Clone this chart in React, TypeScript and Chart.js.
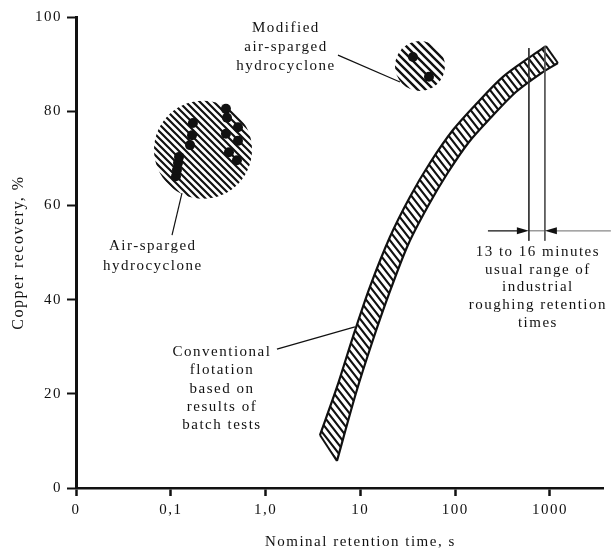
import React, { useEffect, useRef } from 'react';
import { Chart, registerables } from 'chart.js';

Chart.register(...registerables);

const FONT = "'Liberation Serif', 'Times New Roman', serif";

// x values are positions on the broken log time axis:
// 0 = "0", 1 = 0,1 s, 2 = 1,0 s, 3 = 10 s, 4 = 100 s, 5 = 1000 s
const xTickPositions = [0, 1, 2, 3, 4, 5];
const xTickLabels = ['0', '0,1', '1,0', '10', '100', '1000'];
const yTickValues = [0, 20, 40, 60, 80, 100];

// Air-sparged hydrocyclone results
const airX = [1.055, 1.065, 1.076, 1.087, 1.203, 1.224, 1.234, 1.582, 1.593, 1.582, 1.709, 1.709, 1.614, 1.698];
const airY = [66.2, 67.5, 69.0, 70.3, 72.8, 74.9, 77.5, 80.5, 78.6, 75.2, 76.6, 73.7, 71.3, 69.6];
const airCloudX = [1.34];
const airCloudY = [71.8];

// Modified air-sparged hydrocyclone results
const modX = [3.555, 3.724];
const modY = [91.5, 87.3];
const modCloudX = [3.629];
const modCloudY = [89.6];

// Conventional flotation band (batch tests)
const bandUpperX = [2.574, 2.753, 2.922, 3.101, 3.312, 3.523, 3.734, 3.977, 4.230, 4.504, 4.789, 4.958];
const bandUpperY = [11.25, 21.4, 32.1, 42.7, 53.3, 61.8, 69.0, 76.0, 81.7, 87.3, 91.5, 93.8];
const bandLowerX = [2.753, 2.954, 3.122, 3.302, 3.502, 3.708, 3.914, 4.146, 4.383, 4.641, 4.911, 5.084];
const bandLowerY = [5.73, 20.17, 30.79, 41.19, 51.59, 59.66, 66.67, 73.46, 78.77, 84.08, 88.11, 90.23];

// Usual industrial roughing range markers (13 and 16 minutes, as drawn)
const rangeX = [4.778, 4.947];
const rangeTopY = [93.4, 93.8];
const rangeBottomY = 52.5;
const rangeArrowY = 54.6;
const rangeArrowFromX = [4.346, 5.643];

// Leader lines
const leaderModX = [2.764, 3.418];
const leaderModY = [91.9, 86.2];
const leaderAirX = [1.013, 1.118];
const leaderAirY = [53.7, 62.6];
const leaderConvX = [2.120, 2.943];
const leaderConvY = [29.5, 34.2];

const textBlocks = [
  { lines: ['Modified', 'air-sparged', 'hydrocyclone'], x: 2.215, y: 97.7, lh: 19 },
  { lines: ['Air-sparged', 'hydrocyclone'], x: 0.81, y: 51.4, lh: 20 },
  { lines: ['Conventional', 'flotation', 'based on', 'results of', 'batch tests'], x: 1.54, y: 28.9, lh: 18.4 },
  { lines: ['13 to 16 minutes', 'usual range of', 'industrial', 'roughing retention', 'times'], x: 4.873, y: 50.1, lh: 17.7 },
];

const xTitle = 'Nominal retention time, s';
const yTitle = 'Copper recovery, %';

const pts = (xs: number[], ys: number[]) => xs.map((x, i) => ({ x, y: ys[i] }));

function hatch(w: number, h: number, lw: number): CanvasPattern {
  const c = document.createElement('canvas');
  c.width = w;
  c.height = h;
  const g = c.getContext('2d')!;
  g.strokeStyle = '#111';
  g.lineWidth = lw;
  g.beginPath();
  for (let k = -1; k <= 1; k++) {
    g.moveTo(-w, k * h - h);
    g.lineTo(2 * w, 2 * h + k * h);
  }
  g.stroke();
  return g.createPattern(c, 'repeat')!;
}

const lineDs = (data: any[], color = '#111', width = 1.2, extra: any = {}) => ({
  data,
  showLine: true,
  borderColor: color,
  borderWidth: width,
  pointRadius: 0,
  fill: false,
  ...extra,
});

const annotPlugin = {
  id: 'annot',
  beforeDraw(chart: any) {
    chart.ctx.letterSpacing = '1.5px';
  },
  afterDraw(chart: any) {
    const { ctx, scales } = chart;
    const xs = scales.x;
    const ys = scales.y;
    ctx.save();
    ctx.letterSpacing = '1.5px';
    ctx.fillStyle = '#111';
    ctx.font = `15px ${FONT}`;
    ctx.textAlign = 'center';
    ctx.textBaseline = 'middle';
    for (const b of textBlocks) {
      const px = xs.getPixelForValue(b.x);
      const py = ys.getPixelForValue(b.y);
      b.lines.forEach((t, i) => ctx.fillText(t, px, py + i * b.lh));
    }
    // x axis title
    ctx.fillText(xTitle, xs.getPixelForValue(3.0), chart.height - 7);

    // arrows
    const ay = ys.getPixelForValue(rangeArrowY);
    const drawArrow = (fromX: number, toX: number, lineColor: string) => {
      const x1 = xs.getPixelForValue(fromX);
      const x2 = xs.getPixelForValue(toX);
      const dir = Math.sign(x2 - x1);
      ctx.strokeStyle = lineColor;
      ctx.lineWidth = 1.3;
      ctx.beginPath();
      ctx.moveTo(x1, ay);
      ctx.lineTo(x2 - dir * 8, ay);
      ctx.stroke();
      ctx.fillStyle = '#111';
      ctx.beginPath();
      ctx.moveTo(x2, ay);
      ctx.lineTo(x2 - dir * 12, ay - 3.5);
      ctx.lineTo(x2 - dir * 12, ay + 3.5);
      ctx.closePath();
      ctx.fill();
    };
    drawArrow(rangeArrowFromX[0], rangeX[0], '#111');
    drawArrow(rangeArrowFromX[1], rangeX[1], '#888');
    ctx.restore();
  },
};

export default function App() {
  const ref = useRef<HTMLCanvasElement>(null);
  useEffect(() => {
    const canvas = ref.current!;
    const bandHatch = hatch(7, 9, 2.1);
    const airHatch = hatch(7, 7, 2.2);
    const modHatch = hatch(8, 8, 2.4);

    const upper = pts(bandUpperX, bandUpperY);
    const lower = pts(bandLowerX, bandLowerY);
    const polygon = [...upper, ...lower.slice().reverse(), upper[0]];

    const chart = new Chart(canvas, {
      type: 'scatter',
      data: {
        datasets: [
          { data: pts(airX, airY), pointRadius: 5, backgroundColor: '#111', borderWidth: 0 },
          { data: pts(modX, modY), pointRadius: 5, backgroundColor: '#111', borderWidth: 0 },
          lineDs(pts(leaderModX, leaderModY)),
          lineDs(pts(leaderAirX, leaderAirY)),
          lineDs(pts(leaderConvX, leaderConvY)),
          lineDs(pts([rangeX[0], rangeX[0]], [rangeTopY[0], rangeBottomY]), '#333', 1),
          lineDs(pts([rangeX[1], rangeX[1]], [rangeTopY[1], rangeBottomY]), '#555', 1),
          lineDs(pts(rangeX, [rangeArrowY, rangeArrowY]), '#444', 0.8),
          lineDs(upper, '#111', 2.2, { tension: 0.3 }),
          lineDs(lower, '#111', 2.2, { tension: 0.3 }),
          lineDs([upper[0], lower[0]], '#111', 2),
          lineDs([upper[upper.length - 1], lower[lower.length - 1]], '#111', 2),
          lineDs(polygon, 'rgba(0,0,0,0)', 0, { tension: 0, fill: 'shape', backgroundColor: bandHatch }),
          { data: pts(airCloudX, airCloudY), pointRadius: 49, backgroundColor: airHatch, borderWidth: 0 },
          { data: pts(modCloudX, modCloudY), pointRadius: 25, backgroundColor: modHatch, borderWidth: 0 },
        ] as any,
      },
      options: {
        responsive: false,
        animation: false,
        events: [],
        layout: { autoPadding: false, padding: { top: 17, right: 8, left: 0, bottom: 0 } },
        plugins: {
          legend: { display: false },
          tooltip: { enabled: false },
        },
        scales: {
          x: {
            type: 'linear',
            min: 0,
            max: 5.56,
            afterBuildTicks: (s: any) => {
              s.ticks = xTickPositions.map((v) => ({ value: v }));
            },
            afterFit: (s: any) => {
              s.height = 61;
            },
            ticks: {
              autoSkip: false,
              maxRotation: 0,
              padding: 5,
              color: '#111',
              font: { family: FONT, size: 15 },
              callback: (v: any) => {
                const i = xTickPositions.indexOf(Number(v));
                return i >= 0 ? xTickLabels[i] : '';
              },
            },
            grid: { drawOnChartArea: false, drawTicks: true, tickLength: 8, tickWidth: 2.5, tickColor: '#111', color: '#111' },
            border: { display: true, color: '#111', width: 2.5 },
          },
          y: {
            min: 0,
            max: 100,
            afterBuildTicks: (s: any) => {
              s.ticks = yTickValues.map((v) => ({ value: v }));
            },
            afterFit: (s: any) => {
              s.width = 76;
            },
            ticks: { padding: 5, color: '#111', font: { family: FONT, size: 15 } },
            grid: { drawOnChartArea: false, drawTicks: true, tickLength: 9, tickWidth: 2, tickColor: '#111', color: '#111' },
            border: { display: true, color: '#111', width: 3 },
            title: {
              display: true,
              text: yTitle,
              color: '#111',
              font: { family: FONT, size: 16 },
              padding: { top: 9, bottom: 0 },
            },
          },
        },
      } as any,
      plugins: [annotPlugin],
    });
    return () => chart.destroy();
  }, []);
  return (
    <div style={{ position: 'absolute', left: 0, top: 0, width: 611, height: 549, background: '#fff' }}>
      <canvas ref={ref} width={611} height={549} style={{ display: 'block', width: 611, height: 549 }} />
    </div>
  );
}
